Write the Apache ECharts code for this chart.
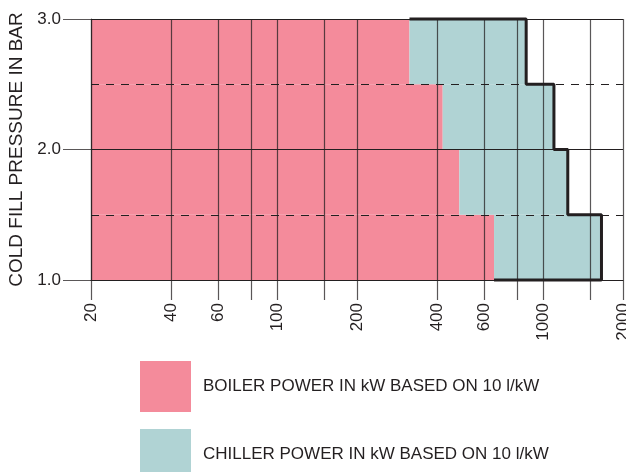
<!DOCTYPE html>
<html>
<head>
<meta charset="utf-8">
<script src="https://cdn.jsdelivr.net/npm/echarts@6/dist/echarts.min.js"></script>
<style>
	html, body { margin: 0; padding: 0; background: #fff; }
	#chart { width: 626px; height: 472px; }
</style>
</head>
<body>
<div id="chart"></div>
<script>
// pressure bands (bar)
var pressureFrom = [1.0, 1.5, 2.0, 2.5];
var pressureTo = [1.5, 2.0, 2.5, 3.0];

// max power per band (kW)
var boilerPower = [655, 485, 420, 315];
var chillerPower = [1660, 1240, 1100, 865];

// axis ticks
var gridValues = [20, 40, 60, 80, 100, 150, 200, 400, 600, 800, 1000, 1500, 2000];
var labelValues = [20, 40, 60, 100, 200, 400, 600, 1000, 2000];

var boilerName = 'BOILER POWER IN kW BASED ON 10 l/kW';
var chillerName = 'CHILLER POWER IN kW BASED ON 10 l/kW';

var fontFamily = '"Liberation Sans", Arial, sans-serif';
var inkColor = '#231f20';
var gridColor = 'rgba(35,31,32,0.75)';

// band rectangles: [xStart, xEnd, yFrom, yTo]
var boilerData = [];
var chillerData = [];
for (var i = 0; i < pressureFrom.length; ++i) {
	boilerData.push([20, boilerPower[i], pressureFrom[i], pressureTo[i]]);
	chillerData.push([boilerPower[i], chillerPower[i], pressureFrom[i], pressureTo[i]]);
}

// outline of chiller area, from top band down
var outlineData = [];
var lastBand = pressureFrom.length - 1;
outlineData.push([boilerPower[lastBand], pressureTo[lastBand]]);
for (var j = lastBand; j >= 0; --j) {
	outlineData.push([chillerPower[j], pressureTo[j]]);
	outlineData.push([chillerPower[j], pressureFrom[j]]);
}
outlineData.push([boilerPower[0], pressureFrom[0]]);

function renderBand(params, api) {
	var p1 = api.coord([api.value(0), api.value(3)]);
	var p2 = api.coord([api.value(1), api.value(2)]);
	return {
		type: 'rect',
		shape: {
			x: p1[0],
			y: p1[1],
			width: p2[0] - p1[0],
			height: p2[1] - p1[1]
		},
		style: api.style()
	};
}

var myChart = echarts.init(document.getElementById('chart'));

var option = {
	animation: false,
	textStyle: {
		fontFamily: fontFamily
	},
	grid: {
		left: 91,
		right: 3,
		top: 19,
		bottom: 192,
		outerBoundsMode: 'none'
	},
	legend: {
		orient: 'vertical',
		left: 140,
		top: 361,
		height: 140,
		padding: 0,
		icon: 'rect',
		itemWidth: 51,
		itemHeight: 51,
		itemGap: 17,
		data: [boilerName, chillerName],
		textStyle: {
			fontSize: 17,
			color: inkColor,
			fontFamily: fontFamily,
			padding: [0, 0, 0, 7]
		}
	},
	xAxis: {
		type: 'log',
		logBase: 10,
		min: 20,
		max: 2000,
		z: 5,
		axisLine: {
			show: true,
			lineStyle: { color: inkColor, width: 1.2 }
		},
		axisTick: {
			show: true,
			length: 20,
			customValues: gridValues,
			lineStyle: { color: gridColor, width: 1.2 }
		},
		minorTick: { show: false },
		axisLabel: {
			customValues: labelValues,
			rotate: 90,
			margin: 23,
			fontSize: 17,
			color: inkColor,
			fontFamily: fontFamily,
			formatter: function(v) {
				return String(Math.round(v));
			}
		},
		splitLine: {
			show: true,
			lineStyle: { color: gridColor, width: 1.2 }
		}
	},
	yAxis: {
		type: 'value',
		min: 1,
		max: 3,
		interval: 1,
		z: 5,
		name: 'COLD FILL PRESSURE IN BAR',
		nameLocation: 'middle',
		nameGap: 65,
		nameTextStyle: {
			fontSize: 19,
			color: inkColor,
			fontFamily: fontFamily
		},
		axisLine: {
			show: true,
			lineStyle: { color: gridColor, width: 1.2 }
		},
		axisTick: {
			show: true,
			length: 28,
			lineStyle: { color: gridColor, width: 1 }
		},
		minorTick: {
			show: false,
			splitNumber: 2
		},
		axisLabel: {
			margin: 30,
			fontSize: 17,
			color: inkColor,
			fontFamily: fontFamily,
			formatter: function(v) {
				return v.toFixed(1);
			}
		},
		splitLine: {
			show: true,
			lineStyle: { color: inkColor, width: 1 }
		},
		minorSplitLine: {
			show: true,
			lineStyle: { color: inkColor, width: 1, type: [8, 7] }
		}
	},
	series: [{
		name: boilerName,
		type: 'custom',
		renderItem: renderBand,
		itemStyle: { color: '#f48b9b' },
		encode: { x: [0, 1], y: [2, 3] },
		data: boilerData,
		z: 2
	}, {
		name: chillerName,
		type: 'custom',
		renderItem: renderBand,
		itemStyle: { color: '#b0d3d4' },
		encode: { x: [0, 1], y: [2, 3] },
		data: chillerData,
		z: 2
	}, {
		name: 'outline',
		type: 'line',
		data: outlineData,
		symbol: 'none',
		clip: false,
		lineStyle: { color: '#231f20', width: 3 },
		z: 10
	}]
};

myChart.setOption(option);
</script>
</body>
</html>
